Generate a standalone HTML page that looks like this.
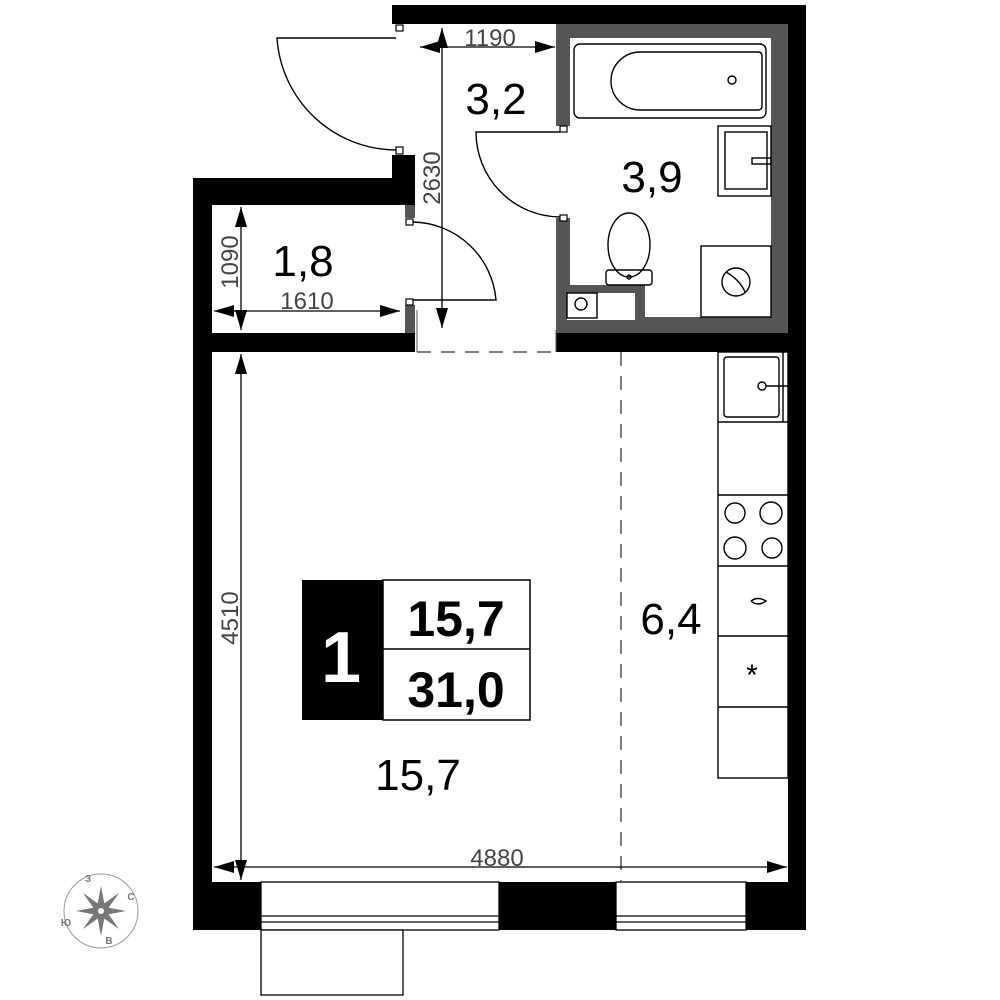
<!DOCTYPE html>
<html><head><meta charset="utf-8"><style>html,body{margin:0;padding:0;background:#fff}svg{display:block}</style></head>
<body>
<svg width="1000" height="1000" viewBox="0 0 1000 1000" xmlns="http://www.w3.org/2000/svg" font-family="Liberation Sans, sans-serif">
<rect width="1000" height="1000" fill="#fff"/>
<rect x="556" y="24" width="232" height="309" fill="#555"/>
<rect x="570" y="38" width="201" height="279" fill="#fff"/>
<rect x="556" y="126" width="14" height="92" fill="#fff"/>
<rect x="570" y="285" width="75" height="32" fill="#555"/>
<rect x="567" y="293" width="68" height="27" fill="#fff"/>
<rect x="392" y="5" width="414" height="19" fill="#000"/>
<rect x="788" y="5" width="18" height="925" fill="#000"/>
<rect x="392" y="155" width="23" height="50" fill="#000"/>
<rect x="405" y="205" width="10" height="13" fill="#555"/>
<rect x="193" y="178" width="222" height="27" fill="#000"/>
<rect x="193" y="178" width="19" height="752" fill="#000"/>
<rect x="193" y="333" width="222" height="19" fill="#000"/>
<rect x="405" y="305" width="10" height="28" fill="#555"/>
<rect x="556" y="333" width="250" height="19" fill="#000"/>
<rect x="193" y="882" width="613" height="48" fill="#000"/>
<g fill="#fff" stroke="#000" stroke-width="1.3">
<rect x="261" y="882" width="238" height="48"/>
<rect x="616" y="882" width="130" height="48"/>
<line x1="261" y1="916" x2="499" y2="916"/><line x1="261" y1="922" x2="499" y2="922"/>
<line x1="616" y1="916" x2="746" y2="916"/><line x1="616" y1="922" x2="746" y2="922"/>
<rect x="261" y="930" width="142" height="65"/>
</g>
<g fill="#fff" stroke="#000" stroke-width="1.2">
<rect x="396" y="25" width="7" height="6"/><rect x="396" y="147" width="7" height="7"/>
<rect x="406" y="219" width="7" height="6"/><rect x="406" y="299" width="7" height="6"/>
<rect x="560" y="126" width="7" height="6"/><rect x="560" y="215" width="7" height="6"/>
</g>
<g fill="none" stroke="#000" stroke-width="1.4">
<path d="M396 38 L277 38 A120 120 0 0 0 396 150"/>
<path d="M413 222 A85 85 0 0 1 496 300 L413 300"/>
<path d="M560 132 L476 132 A85 85 0 0 0 560 217"/>
<rect x="574" y="44" width="192" height="74" rx="6"/>
<path d="M640 52 L758 52 Q762 52 762 56 L762 106 Q762 110 758 110 L640 110 A29 29 0 0 1 640 52 Z"/>
<circle cx="732" cy="80" r="4"/>
<rect x="718" y="126" width="53" height="70"/>
<rect x="725" y="132" width="42" height="57"/>
<rect x="752" y="158" width="19" height="6"/>
<ellipse cx="629" cy="245" rx="21" ry="32"/>
<rect x="606" y="270" width="46" height="15" rx="3"/>
<circle cx="629" cy="277" r="2"/>
<rect x="701" y="246" width="70" height="71"/>
<circle cx="736" cy="282" r="14"/>
<path d="M726 272 Q740 280 745 292"/>
<rect x="567" y="293" width="30" height="25"/>
<circle cx="581" cy="304" r="6"/>
<rect x="718" y="352" width="70" height="426"/>
<line x1="718" y1="422" x2="788" y2="422"/><line x1="718" y1="495" x2="788" y2="495"/>
<line x1="718" y1="566" x2="788" y2="566"/><line x1="718" y1="636" x2="788" y2="636"/>
<line x1="718" y1="707" x2="788" y2="707"/>
<rect x="724" y="357" width="55" height="60" rx="3"/>
<line x1="783" y1="352" x2="783" y2="422"/>
<circle cx="735" cy="513" r="10"/><circle cx="771" cy="513" r="11"/>
<circle cx="735" cy="548" r="11"/><circle cx="772" cy="548" r="10"/>
<path d="M751 601 Q758 596 766 601 Q758 607 751 601"/>
</g>
<circle cx="762" cy="386" r="4" fill="#fff" stroke="#000" stroke-width="1.4"/>
<line x1="766" y1="386" x2="788" y2="386" stroke="#000" stroke-width="1.4"/>
<text x="752" y="685" font-size="30" text-anchor="middle">*</text>
<g stroke="#555" stroke-width="1.5" stroke-dasharray="14,10" fill="none">
<line x1="417" y1="352" x2="556" y2="352"/>
<line x1="621" y1="352" x2="621" y2="882"/>
</g>
<line x1="417" y1="310" x2="417" y2="352" stroke="#555" stroke-width="1"/>
<line x1="556" y1="330" x2="556" y2="352" stroke="#555" stroke-width="1"/>
<g stroke="#000" stroke-width="1.3">
<line x1="420" y1="47" x2="555" y2="47"/>
<line x1="442" y1="28" x2="442" y2="328"/>
<line x1="241" y1="207" x2="241" y2="330"/>
<line x1="214" y1="311" x2="400" y2="311"/>
<line x1="241" y1="354" x2="241" y2="880"/>
<line x1="214" y1="867" x2="787" y2="867"/>
</g>
<g fill="#000">
<polygon points="420,47 440,41 440,53"/><polygon points="555,47 535,41 535,53"/>
<polygon points="442,28 436,48 448,48"/><polygon points="442,328 436,308 448,308"/>
<polygon points="241,207 235,227 247,227"/><polygon points="241,330 235,310 247,310"/>
<polygon points="214,311 234,305 234,317"/><polygon points="400,311 380,305 380,317"/>
<polygon points="241,354 235,374 247,374"/><polygon points="241,880 235,860 247,860"/>
<polygon points="214,867 234,861 234,873"/><polygon points="787,867 767,861 767,873"/>
</g>
<g fill="#444" font-size="24">
<text x="490" y="46" text-anchor="middle">1190</text>
<text x="307" y="309" text-anchor="middle">1610</text>
<text x="497" y="866" text-anchor="middle">4880</text>
<text transform="translate(440,178) rotate(-90)" text-anchor="middle">2630</text>
<text transform="translate(238,262) rotate(-90)" text-anchor="middle">1090</text>
<text transform="translate(238,618) rotate(-90)" text-anchor="middle">4510</text>
</g>
<g fill="#000" font-size="44" text-anchor="middle">
<text x="496" y="114">3,2</text>
<text x="652" y="192">3,9</text>
<text x="303" y="276">1,8</text>
<text x="671" y="634">6,4</text>
<text x="418" y="790">15,7</text>
</g>
<rect x="302" y="580" width="81" height="140" fill="#000"/>
<rect x="383" y="580" width="147" height="140" fill="#fff" stroke="#000" stroke-width="1.5"/>
<line x1="383" y1="649" x2="530" y2="649" stroke="#000" stroke-width="1.5"/>
<text x="341" y="682" fill="#fff" font-size="72" font-weight="bold" text-anchor="middle">1</text>
<g font-size="50" font-weight="bold" text-anchor="middle"><text x="456" y="636">15,7</text><text x="456" y="707">31,0</text></g>
<g fill="none" stroke="#999" stroke-width="1"><circle cx="101" cy="911" r="37"/></g>
<g fill="#777">
<polygon points="101,886 105,907 101,911 97,907"/><polygon points="101,936 97,915 101,911 105,915"/>
<polygon points="76,911 97,907 101,911 97,915"/><polygon points="126,911 105,915 101,911 105,907"/>
<polygon points="83,893 100,905 101,911 95,910"/><polygon points="119,893 107,910 101,911 102,905"/>
<polygon points="83,929 95,912 101,911 100,917"/><polygon points="119,929 102,917 101,911 107,912"/>
</g>
<circle cx="101" cy="911" r="3" fill="#fff"/>
<g fill="#777" font-size="10" font-weight="bold" text-anchor="middle">
<text x="88" y="882">З</text><text x="131" y="900">С</text><text x="66" y="926">Ю</text><text x="109" y="944">В</text>
</g>
</svg>
</body></html>
